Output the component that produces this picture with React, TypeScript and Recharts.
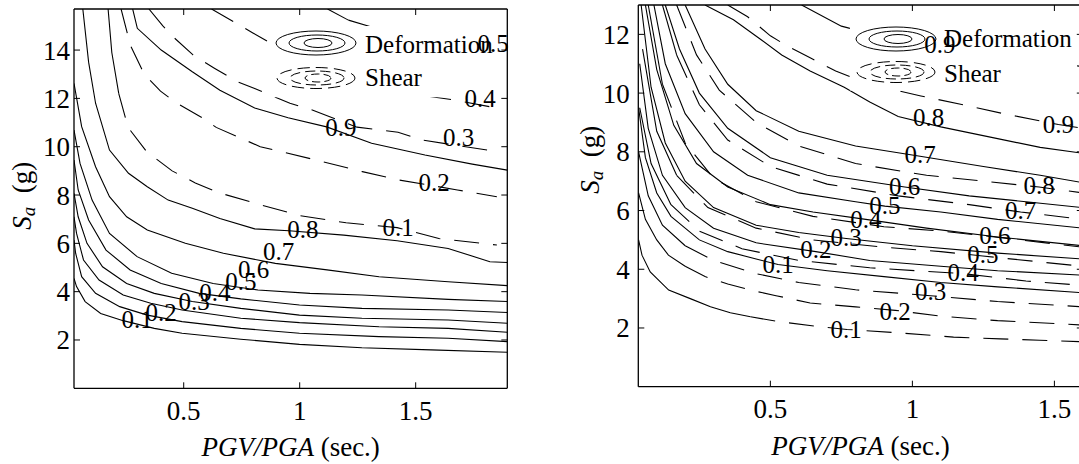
import React from 'react';
import { LineChart, Line, XAxis, YAxis, ReferenceDot, ReferenceArea, Legend } from 'recharts';

type Pt = [number, number];

// ---------------- Left panel data ----------------
const leftXTicks = [0.5, 1, 1.5];
const leftYTicks = [2, 4, 6, 8, 10, 12, 14];

const leftDef01: Pt[] = [[0.027, 4.55], [0.038, 4.21], [0.075, 3.59], [0.142, 3.1], [0.239, 2.8], [0.373, 2.48], [0.493, 2.28], [0.746, 2.03], [0.999, 1.82], [1.268, 1.68], [1.566, 1.59], [1.895, 1.49]];
const leftDef02: Pt[] = [[0.027, 6.14], [0.034, 5.59], [0.06, 4.62], [0.12, 3.93], [0.224, 3.38], [0.343, 3.03], [0.493, 2.76], [0.746, 2.48], [0.999, 2.28], [1.342, 2.14], [1.64, 2.07], [1.895, 1.93]];
const leftDef03: Pt[] = [[0.027, 7.1], [0.038, 6.41], [0.068, 5.31], [0.135, 4.48], [0.239, 3.86], [0.358, 3.52], [0.493, 3.24], [0.746, 2.9], [0.999, 2.72], [1.342, 2.55], [1.64, 2.48], [1.895, 2.32]];
const leftDef04: Pt[] = [[0.027, 8.07], [0.045, 7.1], [0.083, 6.0], [0.15, 5.03], [0.254, 4.34], [0.373, 3.93], [0.537, 3.59], [0.746, 3.31], [0.999, 3.03], [1.268, 2.9], [1.64, 2.83], [1.895, 2.69]];
const leftDef05: Pt[] = [[0.027, 9.45], [0.045, 8.21], [0.09, 6.97], [0.165, 5.72], [0.269, 4.9], [0.403, 4.34], [0.567, 3.93], [0.746, 3.7], [0.999, 3.45], [1.268, 3.31], [1.64, 3.24], [1.895, 3.14]];
const leftDef06: Pt[] = [[0.027, 10.69], [0.053, 9.31], [0.105, 7.79], [0.18, 6.41], [0.299, 5.45], [0.448, 4.76], [0.627, 4.34], [0.82, 4.07], [1.044, 3.93], [1.268, 3.86], [1.64, 3.68], [1.895, 3.59]];
const leftDef07: Pt[] = [[0.027, 12.62], [0.06, 10.83], [0.12, 9.17], [0.18, 7.93], [0.254, 7.1], [0.343, 6.55], [0.507, 6.0], [0.671, 5.59], [0.895, 5.17], [1.118, 4.9], [1.342, 4.62], [1.64, 4.41], [1.895, 4.25]];
const leftDef08: Pt[] = [[0.065, 15.7], [0.09, 13.5], [0.12, 11.8], [0.18, 9.86], [0.262, 8.9], [0.343, 8.34], [0.433, 7.79], [0.537, 7.45], [0.656, 7.03], [0.806, 6.6], [0.954, 6.52], [1.19, 6.34], [1.42, 6.11], [1.64, 5.79], [1.82, 5.24], [1.895, 5.21]];
const leftDef09: Pt[] = [[0.28, 15.7], [0.3, 14.9], [0.403, 14.0], [0.537, 13.1], [0.656, 12.34], [0.806, 11.6], [0.95, 11.2], [1.116, 10.82], [1.31, 10.14], [1.54, 9.66], [1.744, 9.28], [1.895, 9.03]];

const leftShr01: Pt[] = [[0.174, 15.7], [0.19, 13.9], [0.22, 12.2], [0.26, 10.8], [0.34, 9.8], [0.45, 9.0], [0.55, 8.5], [0.65, 8.1], [0.83, 7.6], [1.0, 7.15], [1.2, 6.85], [1.42, 6.65], [1.6, 6.2], [1.85, 5.93]];
const leftShr02: Pt[] = [[0.23, 15.7], [0.27, 14.2], [0.33, 13.0], [0.4, 12.3], [0.47, 11.8], [0.58, 11.2], [0.64, 10.8], [0.83, 10.0], [1.07, 9.45], [1.27, 8.97], [1.43, 8.62], [1.68, 8.21], [1.85, 7.93]];
const leftShr03: Pt[] = [[0.35, 15.7], [0.41, 15.0], [0.46, 14.5], [0.54, 13.8], [0.634, 13.24], [0.731, 12.69], [0.806, 12.41], [0.958, 11.8], [1.057, 11.51], [1.247, 10.81], [1.424, 10.6], [1.532, 10.27], [1.85, 9.8]];
const leftShr04: Pt[] = [[0.62, 15.7], [0.8, 14.7], [1.0, 13.6], [1.2, 12.8], [1.4, 12.3], [1.67, 11.93], [1.85, 11.6]];
const leftShr05: Pt[] = [[1.12, 15.7], [1.21, 15.24], [1.4, 14.7], [1.6, 14.4], [1.85, 14.2]];

const leftLabelText = ['0.1', '0.2', '0.3', '0.4', '0.5', '0.6', '0.7', '0.8', '0.9', '0.1', '0.2', '0.3', '0.4', '0.5'];
const leftLabelX = [0.299, 0.403, 0.545, 0.634, 0.746, 0.801, 0.909, 1.014, 1.178, 1.424, 1.58, 1.685, 1.778, 1.834];
const leftLabelY = [2.86, 3.17, 3.59, 4.0, 4.44, 4.92, 5.66, 6.58, 10.83, 6.69, 8.55, 10.41, 12.0, 14.28];

// legend background box (x1, x2, y1, y2) in data units
const leftLegendBox = [0.872, 1.86, 12.05, 15.0];

// ---------------- Right panel data ----------------
const rightXTicks = [0.5, 1, 1.5];
const rightYTicks = [2, 4, 6, 8, 10, 12];

const rightShr01: Pt[] = [[0.036, 5.0], [0.048, 4.48], [0.077, 3.91], [0.142, 3.29], [0.218, 3.0], [0.289, 2.72], [0.359, 2.52], [0.43, 2.38], [0.535, 2.21], [0.676, 2.04], [0.77, 1.95], [0.957, 1.83], [1.145, 1.69], [1.309, 1.63], [1.448, 1.58], [1.6, 1.53]];
const rightShr02: Pt[] = [[0.036, 6.6], [0.06, 5.7], [0.1, 5.0], [0.141, 4.48], [0.2, 4.1], [0.27, 3.75], [0.35, 3.5], [0.43, 3.29], [0.52, 3.1], [0.64, 2.85], [0.8, 2.72], [0.94, 2.6], [1.1, 2.4], [1.3, 2.25], [1.6, 2.1]];
const rightShr03: Pt[] = [[0.036, 8.0], [0.07, 6.5], [0.12, 5.5], [0.2, 4.8], [0.3, 4.3], [0.45, 3.85], [0.6, 3.55], [0.8, 3.3], [1.064, 3.1], [1.3, 2.9], [1.6, 2.72]];
const rightShr04: Pt[] = [[0.04, 9.5], [0.08, 7.6], [0.15, 6.2], [0.25, 5.3], [0.4, 4.7], [0.6, 4.3], [0.85, 4.05], [1.179, 3.85], [1.4, 3.6], [1.6, 3.45]];
const rightShr05: Pt[] = [[0.05, 11.5], [0.1, 8.7], [0.17, 7.2], [0.28, 6.1], [0.45, 5.4], [0.65, 5.0], [0.9, 4.75], [1.1, 4.6], [1.248, 4.45], [1.6, 4.1]];
const rightShr06: Pt[] = [[0.07, 13.0], [0.12, 10.3], [0.2, 8.3], [0.3, 7.1], [0.45, 6.3], [0.65, 5.8], [0.9, 5.45], [1.1, 5.3], [1.29, 5.1], [1.6, 4.75]];
const rightShr07: Pt[] = [[0.12, 13.0], [0.17, 11.3], [0.25, 9.6], [0.35, 8.4], [0.5, 7.5], [0.7, 6.9], [0.95, 6.5], [1.2, 6.2], [1.381, 5.95], [1.6, 5.7]];
const rightShr08: Pt[] = [[0.17, 13.0], [0.24, 11.3], [0.32, 10.1], [0.45, 9.0], [0.6, 8.2], [0.8, 7.6], [1.05, 7.2], [1.25, 7.0], [1.446, 6.8], [1.6, 6.6]];
const rightShr09: Pt[] = [[0.35, 13.0], [0.42, 12.6], [0.5, 11.95], [0.56, 11.6], [0.64, 11.2], [0.73, 10.75], [0.85, 10.3], [1.03, 9.9], [1.18, 9.6], [1.32, 9.3], [1.514, 8.93], [1.6, 8.8]];

const rightDef01: Pt[] = [[0.036, 9.5], [0.06, 7.8], [0.1, 6.6], [0.15, 5.8], [0.25, 5.0], [0.35, 4.6], [0.45, 4.35], [0.527, 4.16], [0.7, 3.95], [0.9, 3.75], [1.1, 3.55], [1.3, 3.4], [1.6, 3.2]];
const rightDef02: Pt[] = [[0.04, 11.0], [0.07, 8.8], [0.12, 7.2], [0.2, 6.1], [0.3, 5.4], [0.45, 4.9], [0.66, 4.6], [0.85, 4.3], [1.1, 4.1], [1.3, 3.95], [1.6, 3.8]];
const rightDef03: Pt[] = [[0.045, 13.0], [0.08, 10.2], [0.13, 8.3], [0.2, 7.0], [0.3, 6.1], [0.45, 5.5], [0.6, 5.25], [0.767, 5.05], [1.0, 4.8], [1.3, 4.55], [1.6, 4.35]];
const rightDef04: Pt[] = [[0.06, 13.0], [0.1, 10.8], [0.16, 8.9], [0.24, 7.6], [0.35, 6.8], [0.5, 6.2], [0.65, 5.95], [0.836, 5.7], [1.05, 5.4], [1.3, 5.1], [1.6, 4.8]];
const rightDef05: Pt[] = [[0.09, 13.0], [0.13, 11.0], [0.2, 9.3], [0.3, 8.0], [0.42, 7.2], [0.6, 6.6], [0.8, 6.3], [0.903, 6.15], [1.1, 5.95], [1.3, 5.7], [1.6, 5.4]];
const rightDef06: Pt[] = [[0.13, 13.0], [0.18, 11.5], [0.25, 10.0], [0.35, 8.8], [0.5, 7.8], [0.7, 7.2], [0.973, 6.8], [1.2, 6.5], [1.4, 6.3], [1.6, 6.1]];
const rightDef07: Pt[] = [[0.2, 13.0], [0.27, 11.5], [0.35, 10.3], [0.45, 9.4], [0.6, 8.7], [0.8, 8.2], [1.027, 7.85], [1.25, 7.5], [1.45, 7.2], [1.6, 6.95]];
const rightDef08: Pt[] = [[0.27, 13.0], [0.37, 12.5], [0.47, 11.8], [0.54, 11.3], [0.64, 10.75], [0.76, 10.2], [0.85, 9.7], [0.95, 9.2], [1.1, 8.85], [1.3, 8.45], [1.45, 8.15], [1.6, 7.95]];
const rightDef09: Pt[] = [[0.61, 13.0], [0.75, 12.28], [0.9, 11.9], [1.1, 11.6], [1.3, 11.3], [1.6, 10.9]];

const rightLabelText = ['0.1', '0.2', '0.3', '0.4', '0.5', '0.6', '0.7', '0.8', '0.9', '0.1', '0.2', '0.3', '0.4', '0.5', '0.6', '0.7', '0.8', '0.9'];
const rightLabelX = [0.527, 0.66, 0.767, 0.836, 0.903, 0.973, 1.027, 1.057, 1.097, 0.767, 0.939, 1.064, 1.179, 1.248, 1.29, 1.381, 1.446, 1.514];
const rightLabelY = [4.16, 4.67, 5.1, 5.72, 6.17, 6.83, 7.91, 9.18, 11.66, 1.97, 2.59, 3.27, 3.9, 4.5, 5.15, 6.01, 6.85, 8.93];

const rightLegendBox = [0.78, 1.58, 10.09, 12.54];

// ---------------- Styling helpers ----------------
const FONT = '"Liberation Serif", "Times New Roman", serif';
const DASH = '25 14';
const TICK_LEN = 6;

// solidTo: index of the vertex up to which a dashed contour is drawn continuous
// (the reference's dense-vertex curved part renders as a solid stroke)
type Series = { key: string; pts: Pt[]; dashed: boolean; solidTo?: number };

const leftSeries: Series[] = [
  { key: 'ld1', pts: leftDef01, dashed: false },
  { key: 'ld2', pts: leftDef02, dashed: false },
  { key: 'ld3', pts: leftDef03, dashed: false },
  { key: 'ld4', pts: leftDef04, dashed: false },
  { key: 'ld5', pts: leftDef05, dashed: false },
  { key: 'ld6', pts: leftDef06, dashed: false },
  { key: 'ld7', pts: leftDef07, dashed: false },
  { key: 'ld8', pts: leftDef08, dashed: false },
  { key: 'ld9', pts: leftDef09, dashed: false },
  { key: 'ls1', pts: leftShr01, dashed: true, solidTo: 2 },
  { key: 'ls2', pts: leftShr02, dashed: true },
  { key: 'ls3', pts: leftShr03, dashed: true },
  { key: 'ls4', pts: leftShr04, dashed: true },
  { key: 'ls5', pts: leftShr05, dashed: true, solidTo: 1 },
];

const rightSeries: Series[] = [
  { key: 'rd1', pts: rightDef01, dashed: false },
  { key: 'rd2', pts: rightDef02, dashed: false },
  { key: 'rd3', pts: rightDef03, dashed: false },
  { key: 'rd4', pts: rightDef04, dashed: false },
  { key: 'rd5', pts: rightDef05, dashed: false },
  { key: 'rd6', pts: rightDef06, dashed: false },
  { key: 'rd7', pts: rightDef07, dashed: false },
  { key: 'rd8', pts: rightDef08, dashed: false },
  { key: 'rd9', pts: rightDef09, dashed: false },
  { key: 'rs1', pts: rightShr01, dashed: true, solidTo: 7 },
  { key: 'rs2', pts: rightShr02, dashed: true, solidTo: 4 },
  { key: 'rs3', pts: rightShr03, dashed: true, solidTo: 3 },
  { key: 'rs4', pts: rightShr04, dashed: true, solidTo: 2 },
  { key: 'rs5', pts: rightShr05, dashed: true, solidTo: 2 },
  { key: 'rs6', pts: rightShr06, dashed: true, solidTo: 1 },
  { key: 'rs7', pts: rightShr07, dashed: true, solidTo: 1 },
  { key: 'rs8', pts: rightShr08, dashed: true },
  { key: 'rs9', pts: rightShr09, dashed: true },
];

const toData = (pts: Pt[]) => pts.map(([x, y]) => ({ x, y }));

const BottomTick = (props: any) => {
  const { x, y, payload } = props;
  return (
    <g>
      <line x1={x} y1={y} x2={x} y2={y - TICK_LEN} stroke="#000" strokeWidth={1} />
      <text x={x} y={y + 31.7} textAnchor="middle" fontSize={27} fontFamily={FONT} fill="#000">
        {payload.value}
      </text>
    </g>
  );
};

const TopTick = (props: any) => {
  const { x, y } = props;
  return <line x1={x} y1={y} x2={x} y2={y + TICK_LEN} stroke="#000" strokeWidth={1} />;
};

const makeLeftTick = (gap: number) => (props: any) => {
  const { x, y, payload } = props;
  return (
    <g>
      <line x1={x} y1={y} x2={x + TICK_LEN} y2={y} stroke="#000" strokeWidth={1} />
      <text x={x - gap} y={y + 9.5} textAnchor="end" fontSize={27} fontFamily={FONT} fill="#000">
        {payload.value}
      </text>
    </g>
  );
};

const RightTick = (props: any) => {
  const { x, y } = props;
  return <line x1={x} y1={y} x2={x - TICK_LEN} y2={y} stroke="#000" strokeWidth={1} />;
};

const makeYLabel = (dxFromAxisBox: number, dyFromCenter: number) => (props: any) => {
  const vb = props.viewBox || {};
  const cx = vb.x + dxFromAxisBox;
  const cy = vb.y + vb.height / 2 + dyFromCenter;
  return (
    <text
      x={cx}
      y={cy}
      transform={`rotate(-90, ${cx}, ${cy})`}
      textAnchor="middle"
      fontSize={27}
      fontFamily={FONT}
      fill="#000"
      dominantBaseline="central"
    >
      <tspan fontStyle="italic">S</tspan>
      <tspan fontStyle="italic" fontSize={19} dy={6}>a</tspan>
      <tspan dy={-6}>{'\u00a0\u00a0(g)'}</tspan>
    </text>
  );
};

const makeXLabel = (baseline: number) => (props: any) => {
  const vb = props.viewBox || {};
  const cx = vb.x + vb.width / 2;
  return (
    <text x={cx} y={vb.y + baseline} textAnchor="middle" fontSize={27} fontFamily={FONT} fill="#000">
      <tspan fontStyle="italic">PGV/PGA</tspan>
      <tspan>{' (sec.)'}</tspan>
    </text>
  );
};

type LegendGeom = {
  left: number;
  top: number;
  iconCx: number;
  defCy: number;
  shrCy: number;
  textX: number;
  defBase: number;
  shrBase: number;
};

const makeLegend = (g: LegendGeom) => () => (
  <svg width={240} height={80} style={{ overflow: 'visible', display: 'block' }}>
    <g fill="none" stroke="#000" strokeWidth={1}>
      <ellipse cx={g.iconCx} cy={g.defCy} rx={40} ry={12} />
      <ellipse cx={g.iconCx + 1} cy={g.defCy} rx={28} ry={8} />
      <ellipse cx={g.iconCx + 2} cy={g.defCy} rx={14} ry={4.5} />
      <ellipse cx={g.iconCx} cy={g.shrCy} rx={39} ry={10.5} strokeDasharray="12 6" />
      <ellipse cx={g.iconCx + 1} cy={g.shrCy} rx={27} ry={7} strokeDasharray="10 5" />
      <ellipse cx={g.iconCx + 2} cy={g.shrCy} rx={13} ry={4} strokeDasharray="8 4" />
    </g>
    <text x={g.textX} y={g.defBase} fontSize={25} fontFamily={FONT} fill="#000">Deformation</text>
    <text x={g.textX} y={g.shrBase} fontSize={25} fontFamily={FONT} fill="#000">Shear</text>
  </svg>
);

type PanelProps = {
  width: number;
  height: number;
  margin: { top: number; right: number; bottom: number; left: number };
  xDomain: [number, number];
  yDomain: [number, number];
  xTicks: number[];
  yTicks: number[];
  series: Series[];
  labelText: string[];
  labelX: number[];
  labelY: number[];
  legendBox: number[];
  tickGap: number;
  yLabelDx: number;
  yLabelDy: number;
  xLabelBaseline: number;
  legend: LegendGeom;
};

const lineProps = {
  xAxisId: 'b',
  yAxisId: 'l',
  dataKey: 'y',
  type: 'linear' as const,
  stroke: '#000',
  strokeWidth: 1.1,
  dot: false,
  activeDot: false,
  legendType: 'none' as const,
  isAnimationActive: false,
};

const renderSeries = (s: Series) => {
  if (!s.dashed) {
    return [<Line key={s.key} {...lineProps} data={toData(s.pts)} />];
  }
  const cut = s.solidTo ?? 0;
  const out = [] as React.ReactElement[];
  if (cut > 0) {
    out.push(<Line key={`${s.key}-s`} {...lineProps} data={toData(s.pts.slice(0, cut + 1))} />);
  }
  out.push(
    <Line key={`${s.key}-d`} {...lineProps} strokeDasharray={DASH} data={toData(s.pts.slice(cut))} />
  );
  return out;
};

const areaExtra: any = { zIndex: 700 };
const dotExtra: any = { zIndex: 800 };

const Panel = (p: PanelProps) => (
  <LineChart width={p.width} height={p.height} margin={p.margin}>
    <XAxis
      xAxisId="b"
      dataKey="x"
      type="number"
      orientation="bottom"
      domain={p.xDomain}
      ticks={p.xTicks}
      allowDataOverflow
      height={50}
      tickSize={0}
      tickMargin={0}
      tickLine={false}
      axisLine={{ stroke: '#000', strokeWidth: 1.3 }}
      tick={<BottomTick />}
      label={{ content: makeXLabel(p.xLabelBaseline) }}
    />
    <XAxis
      xAxisId="t"
      dataKey="x"
      type="number"
      orientation="top"
      domain={p.xDomain}
      ticks={p.xTicks}
      allowDataOverflow
      height={1}
      tickSize={0}
      tickMargin={0}
      tickLine={false}
      axisLine={{ stroke: '#000', strokeWidth: 1.3 }}
      tick={<TopTick />}
    />
    <YAxis
      yAxisId="l"
      dataKey="y"
      type="number"
      orientation="left"
      domain={p.yDomain}
      ticks={p.yTicks}
      allowDataOverflow
      width={60}
      tickSize={0}
      tickMargin={0}
      tickLine={false}
      axisLine={{ stroke: '#000', strokeWidth: 1.3 }}
      tick={makeLeftTick(p.tickGap)}
      label={{ content: makeYLabel(p.yLabelDx, p.yLabelDy) }}
    />
    <YAxis
      yAxisId="r"
      dataKey="y"
      type="number"
      orientation="right"
      domain={p.yDomain}
      ticks={p.yTicks}
      allowDataOverflow
      width={1}
      tickSize={0}
      tickMargin={0}
      tickLine={false}
      axisLine={{ stroke: '#000', strokeWidth: 1.3 }}
      tick={<RightTick />}
    />
    {p.series.flatMap(renderSeries)}
    <ReferenceArea
      xAxisId="b"
      yAxisId="l"
      x1={p.legendBox[0]}
      x2={p.legendBox[1]}
      y1={p.legendBox[2]}
      y2={p.legendBox[3]}
      fill="#ffffff"
      fillOpacity={1}
      stroke="none"
      ifOverflow="visible"
      {...areaExtra}
    />
    {p.labelText.map((t, i) => (
      <ReferenceDot
        key={`lab${i}`}
        xAxisId="b"
        yAxisId="l"
        x={p.labelX[i]}
        y={p.labelY[i]}
        r={0}
        stroke="none"
        fill="none"
        ifOverflow="visible"
        {...dotExtra}
        label={{ value: t, position: 'center', fontSize: 25, fontFamily: FONT, fill: '#000' }}
      />
    ))}
    <Legend
      layout="horizontal"
      verticalAlign="middle"
      align="center"
      content={makeLegend(p.legend)}
      wrapperStyle={{ position: 'absolute', left: p.legend.left, top: p.legend.top, width: 240, height: 80 }}
    />
  </LineChart>
);

export default function App() {
  return (
    <div
      style={{
        position: 'fixed',
        left: 0,
        top: 0,
        width: 1079,
        height: 464,
        overflow: 'hidden',
        background: '#fff',
      }}
    >
      <div style={{ position: 'absolute', left: 0, top: 0 }}>
        <Panel
          width={520}
          height={464}
          margin={{ top: 8, right: 11.7, bottom: 25.7, left: 14 }}
          xDomain={[0.027, 1.895]}
          yDomain={[0, 15.7]}
          xTicks={leftXTicks}
          yTicks={leftYTicks}
          series={leftSeries}
          labelText={leftLabelText}
          labelX={leftLabelX}
          labelY={leftLabelY}
          legendBox={leftLegendBox}
          tickGap={4}
          yLabelDx={8}
          yLabelDy={-3}
          xLabelBaseline={67.7}
          legend={{ left: 270, top: 25, iconCx: 46, defCy: 18, shrCy: 53, textX: 95, defBase: 27.7, shrBase: 61 }}
        />
      </div>
      <div style={{ position: 'absolute', left: 560, top: 0 }}>
        <Panel
          width={540}
          height={464}
          margin={{ top: 4, right: 16.2, bottom: 27.3, left: 18.3 }}
          xDomain={[0.035, 1.6]}
          yDomain={[0, 13]}
          xTicks={rightXTicks}
          yTicks={rightYTicks}
          series={rightSeries}
          labelText={rightLabelText}
          labelX={rightLabelX}
          labelY={rightLabelY}
          legendBox={rightLegendBox}
          tickGap={8.5}
          yLabelDx={12}
          yLabelDy={-36}
          xLabelBaseline={68.3}
          legend={{ left: 290, top: 15, iconCx: 46, defCy: 24, shrCy: 57, textX: 94, defBase: 31.7, shrBase: 66.7 }}
        />
      </div>
    </div>
  );
}
